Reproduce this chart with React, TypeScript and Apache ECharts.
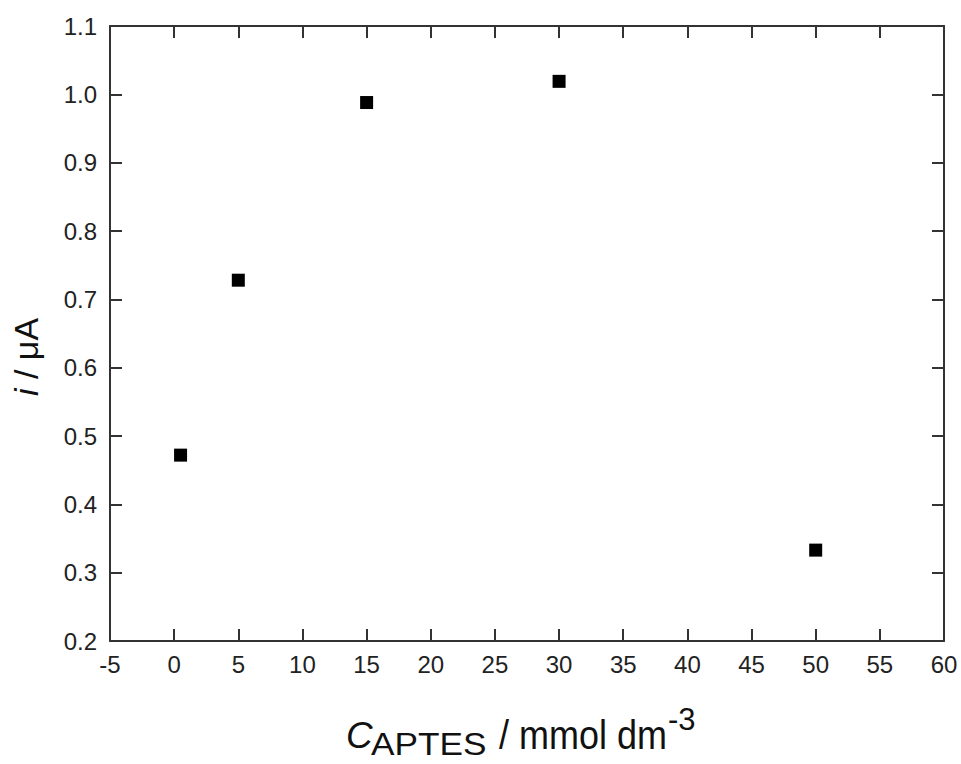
import React, { useEffect, useRef } from "react";
import * as echarts from "echarts";

const xValues = [0.5, 5, 15, 30, 50];
const yValues = [0.472, 0.728, 0.988, 1.019, 0.333];

const xMin = -5, xMax = 60, xStep = 5;
const yMin = 0.2, yMax = 1.1, yStep = 0.1;

const FONT = "Liberation Sans, Arial, sans-serif";
const AX = "#333";

export default function App() {
  const ref = useRef<HTMLDivElement>(null);
  useEffect(() => {
    const chart = echarts.init(ref.current!, null, { renderer: "svg" });
    const axisCommon = {
      axisLine: { show: true, onZero: false, lineStyle: { color: AX, width: 2 } },
      axisTick: { show: true, inside: true, length: 12, lineStyle: { color: AX, width: 2 } },
      splitLine: { show: false },
    };
    chart.setOption({
      animation: false,
      backgroundColor: "#fff",
      grid: { left: 110, top: 26, right: 17, bottom: 123, containLabel: false },
      xAxis: [
        {
          type: "value", min: xMin, max: xMax, interval: xStep, position: "bottom",
          ...axisCommon,
          axisLabel: { show: true, color: "#222", fontSize: 24, fontFamily: FONT, margin: 11 },
        },
        {
          type: "value", min: xMin, max: xMax, interval: xStep, position: "top",
          ...axisCommon,
          axisLabel: { show: false },
        },
      ],
      yAxis: [
        {
          type: "value", min: yMin, max: yMax, interval: yStep, position: "left",
          ...axisCommon,
          axisLabel: {
            show: true, color: "#222", fontSize: 24, fontFamily: FONT, margin: 13,
            formatter: (v: number) => v.toFixed(1),
          },
        },
        {
          type: "value", min: yMin, max: yMax, interval: yStep, position: "right",
          ...axisCommon,
          axisLabel: { show: false },
        },
      ],
      series: [
        {
          type: "scatter",
          xAxisIndex: 0,
          yAxisIndex: 0,
          data: xValues.map((x, i) => [x, yValues[i]]),
          symbol: "rect",
          symbolSize: 13,
          itemStyle: { color: "#000", opacity: 1 },
        },
      ],
      graphic: [
        {
          type: "text", x: 26, y: 357, rotation: Math.PI / 2,
          style: {
            text: "{i|i}{n| / μA}",
            align: "center", verticalAlign: "middle",
            fill: "#111",
            rich: {
              i: { fontSize: 34, fontStyle: "italic", fontFamily: FONT, fill: "#111" },
              n: { fontSize: 34, fontFamily: FONT, fill: "#111" },
            },
          },
        },
        { type: "text", x: 346, y: 735, style: { text: "C", fontSize: 37, fontStyle: "italic", fontFamily: FONT, fill: "#111", align: "left", verticalAlign: "middle" } },
        { type: "text", x: 371, y: 744, scaleX: 1.1, style: { text: "APTES", fontSize: 32, fontFamily: FONT, fill: "#111", align: "left", verticalAlign: "middle" } },
        { type: "text", x: 499, y: 735, scaleY: 1.12, style: { text: "/ mmol dm", fontSize: 36, fontFamily: FONT, fill: "#111", align: "left", verticalAlign: "middle" } },
        { type: "text", x: 668, y: 719, style: { text: "-3", fontSize: 31, fontFamily: FONT, fill: "#111", align: "left", verticalAlign: "middle" } },
      ],
    });
    return () => chart.dispose();
  }, []);
  return <div ref={ref} style={{ width: 961, height: 764, position: "absolute", left: 0, top: 0 }} />;
}
